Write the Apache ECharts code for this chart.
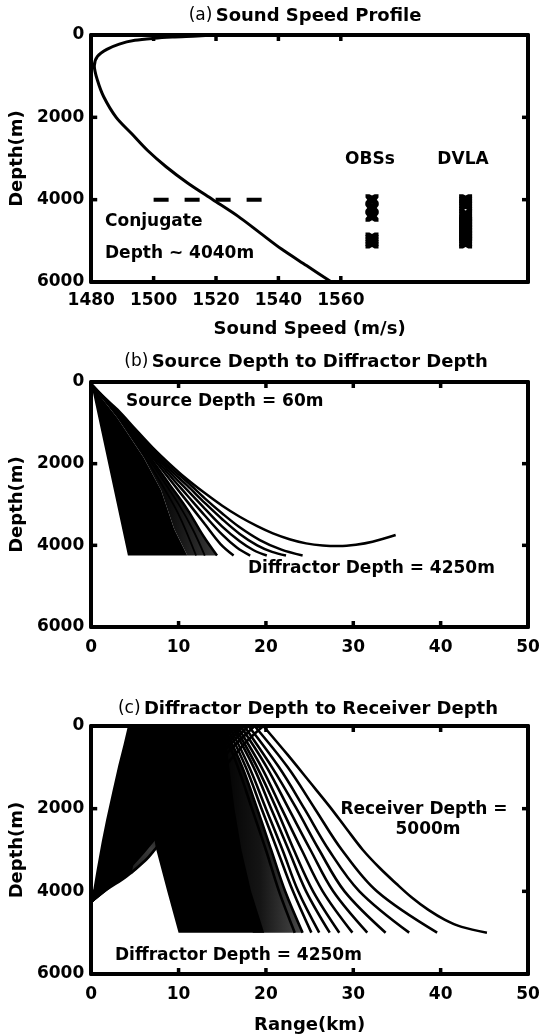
<!DOCTYPE html>
<html><head><meta charset="utf-8">
<script src="https://cdn.jsdelivr.net/npm/echarts@6/dist/echarts.min.js"></script>
<style>html,body{margin:0;padding:0;background:#fff}#c{width:543px;height:1036px}</style>
</head><body><div id="c"></div>
<script>
// ---------- Panel (a) data ----------
const speedProfile = [[1520,0],[1514,25],[1506,50],[1500,80],[1494,130],[1489,220],[1485,350],[1482,520],[1481,750],[1482,1100],[1484,1500],[1488,2000],[1493,2400],[1498,2800],[1504,3200],[1511,3600],[1519,4000],[1527,4400],[1534,4800],[1541,5200],[1549,5600],[1557,6000]];
const conjugateLine = [[1500,4000],[1536,4000]];
const obsSpeed = 1570;
const obsDepths = [4000,4200,4400,4930,4990,5050];
const dvlaSpeed = 1600;
const dvlaDepths = [4000,4070,4130,4360,4430,4500,4570,4640,4710,4780,4850,4920,4990,5050];
const speedLabels = [1480,1500,1520,1540,1560];
const speedTicks = [1500,1520,1540,1560];
const depthLabels = [0,2000,4000,6000];
const depthTicks = [2000,4000];
const rangeLabels = [0,10,20,30,40,50];
const rangeTicks = [10,20,30,40];

// ---------- Panel (b) data: source (60 m) to diffractor (4250 m) ----------
const fanB_solid = [[0,60],[4.2,4250],[11,4250],[9.5,3600],[8,2650],[6,1850],[3,880],[0,60]];
const fanB_grad  = [[0,60],[3,880],[6,1850],[8,2650],[9.5,3600],[11,4250],[14.4,4250],[12.8,3760],[11,3120],[9,2520],[6,1630],[3,790],[0,60]];
const rayB0 = [[0,60],[1.5,380],[3.2,718],[5,1140],[7,1600],[9,2010],[10.8,2350],[13,2720],[15,3030],[17,3300],[19,3530],[20.8,3707],[22.7,3850],[24.6,3952],[26.5,4005],[28.4,4018],[30.3,3985],[32.2,3912],[34.85,3748]];
const rayB1 = [[0,60],[3,725],[6,1420],[9,2080],[11,2450],[13,2850],[15,3220],[17,3558],[19.3,3871],[21.7,4100],[24.2,4250]];
const rayB2 = [[0,60],[3,735],[6,1450],[9,2140],[11,2540],[13,2960],[15,3360],[17,3720],[19,4000],[20.7,4160],[22.3,4250]];
const rayB3 = [[0,60],[3,745],[6,1480],[9,2210],[11,2650],[13,3100],[15,3540],[17,3900],[18.6,4120],[20.1,4250]];
const rayB4 = [[0,60],[3,760],[6,1520],[9,2290],[11,2780],[13,3270],[15,3740],[16.7,4060],[18.2,4250]];
const rayB5 = [[0,60],[3,775],[6,1570],[9,2390],[11,2930],[13,3480],[14.8,3970],[16.3,4250]];
const rayB6 = [[0,60],[3,790],[6,1630],[9,2520],[11,3120],[12.8,3760],[14.4,4250]];
const rayB7 = [[0,60],[3,810],[6,1700],[8,2330],[10,2990],[11.6,3600],[13.0,4250]];
const rayB8 = [[0,60],[3,830],[6,1780],[8,2480],[10,3240],[12,4250]];

// ---------- Panel (c) data: diffractor (4250 m) to surface, then down to receiver (5000 m) ----------
const fanC_solid = [[0,4250],[0.6,3500],[1.2,2800],[1.7,2275],[2.4,1600],[3.1,950],[3.7,450],[4.2,0],[15.2,0],[15.8,1000],[16.4,2000],[17.2,3000],[18.3,4000],[19.8,5000],[10,5000],[8.7,4000],[7.4,2960],[6.25,3243],[4,3646],[1.7,3969],[0,4250]];
const fanC_grad  = [[14.5,0],[15.2,0],[17.3,1000],[19.0,2000],[20.6,3000],[22.2,4000],[24.2,5000],[18.5,5000],[17.2,4000],[16.2,3000],[15.5,2000],[15,1000]];
const fanC_sparse = [[4.6,3590],[6.25,3243],[7.4,2960],[7.1,2560],[6.2,2450],[5.3,2850]];
const rayC1  = [[0,4250],[1.7,3969],[4,3646],[6.25,3243],[7.4,2960],[10,2330],[13,1570],[16,800],[18,330],[19.7,0],[22.5,700],[25,1350],[27.3,1950],[29.2,2480],[31.1,3000],[33,3430],[34.9,3810],[36.7,4150],[38.6,4450],[40.5,4690],[42.4,4860],[45.3,5000]];
const rayC2  = [[0,4250],[3,3720],[6,3050],[9.5,2150],[14,1000],[18.7,0],[22.5,1000],[25.6,2000],[28.7,3000],[32.7,4000],[39.6,5000]];
const rayC3  = [[0,4250],[3,3700],[6,3000],[9.5,2080],[13.5,1000],[18.0,0],[21.5,1000],[24.4,2000],[27.2,3000],[30.7,4000],[36.4,5000]];
const rayC4  = [[0,4250],[6,2950],[13,1000],[17.5,0],[20.7,1000],[23.5,2000],[26.1,3000],[29.0,4000],[33.7,5000]];
const rayC5  = [[0,4250],[6,2900],[12.7,1000],[17.1,0],[20.1,1000],[22.6,2000],[25.1,3000],[27.7,4000],[31.6,5000]];
const rayC6  = [[0,4250],[6,2850],[12.4,1000],[16.7,0],[19.5,1000],[21.8,2000],[24.1,3000],[26.5,4000],[29.9,5000]];
const rayC7  = [[0,4250],[6,2800],[12.1,1000],[16.4,0],[19.0,1000],[21.2,2000],[23.2,3000],[25.4,4000],[28.4,5000]];
const rayC8  = [[0,4250],[6,2750],[11.8,1000],[16.1,0],[18.6,1000],[20.6,2000],[22.6,3000],[24.6,4000],[27.3,5000]];
const rayC9  = [[0,4250],[6,2700],[11.5,1000],[15.8,0],[18.1,1000],[20.0,2000],[21.9,3000],[23.7,4000],[26.1,5000]];
const rayC10 = [[0,4250],[6,2650],[11.2,1000],[15.5,0],[17.7,1000],[19.5,2000],[21.3,3000],[23.1,4000],[25.2,5000]];
const rayC11 = [[0,4250],[6,2600],[10.9,1000],[15.2,0],[17.3,1000],[19.0,2000],[20.6,3000],[22.2,4000],[24.2,5000]];
const rayC12 = [[0,4250],[6,2550],[10.6,1000],[14.9,0],[16.8,1000],[18.4,2000],[20.0,3000],[21.5,4000],[23.3,5000]];

const FONT = '"DejaVu Sans", sans-serif';
const BLACK = '#000';

const raysB = [rayB0,rayB1,rayB2,rayB3,rayB4,rayB5,rayB6,rayB7,rayB8];
const raysC = [rayC1,rayC2,rayC3,rayC4,rayC5,rayC6,rayC7,rayC8,rayC9,rayC10,rayC11,rayC12];

const grids = [
  {left:90, top:35, width:438, height:247},
  {left:90, top:382, width:438, height:245},
  {left:90, top:726, width:438, height:248}
];

function lbl(){ return {show:true, fontFamily:FONT, fontWeight:'bold', fontSize:17, color:BLACK, formatter:v=>String(v)}; }
const axLine = {show:true, onZero:false, lineStyle:{color:BLACK, width:4}};
function xPair(g, min, max, interval, labels, name, nameGap, margin){
  const base = {gridIndex:g, type:'value', min:min, max:max, interval:interval, splitLine:{show:false},
    axisLine:axLine, axisTick:{show:false}};
  const bottom = Object.assign({}, base, {position:'bottom',
    axisLabel:Object.assign(lbl(), {margin:margin, customValues:labels})});
  if (name) Object.assign(bottom, {name:name, nameLocation:'middle', nameGap:nameGap,
    nameTextStyle:{fontFamily:FONT, fontWeight:'bold', fontSize:18, color:BLACK}});
  const top = Object.assign({}, base, {position:'top', axisLabel:{show:false}});
  return [bottom, top];
}
function yPair(g){
  const base = {gridIndex:g, type:'value', inverse:true, min:0, max:6000, interval:2000, splitLine:{show:false},
    axisLine:axLine, axisTick:{show:false}};
  const left = Object.assign({}, base, {position:'left', axisLabel:Object.assign(lbl(), {margin:7, customValues:depthLabels}),
    name:'Depth(m)', nameLocation:'middle', nameGap:50, nameRotate:90,
    nameTextStyle:{fontFamily:FONT, fontWeight:'bold', fontSize:18, color:BLACK}});
  const right = Object.assign({}, base, {position:'right', axisLabel:{show:false}});
  return [left, right];
}

const xAxis = [].concat(
  xPair(0, 1480, 1620, 20, speedLabels, 'Sound Speed (m/s)', 38, 10),
  xPair(1, 0, 50, 10, rangeLabels, null, 0, 12),
  xPair(2, 0, 50, 10, rangeLabels, 'Range(km)', 42, 12)
);
const yAxis = [].concat(yPair(0), yPair(1), yPair(2));

// inside tick marks on all four sides (MATLAB box style), placed through the axes' own scales
function tickSeries(ax, xTicks, yTicks, xr, yr){
  return {type:'custom', xAxisIndex:ax, yAxisIndex:ax, silent:true, clip:false, z:10,
    data:[[xr[0], yr[0]]],
    renderItem:function(params, api){
      const L = 6, st = {stroke:BLACK, lineWidth:3.5}, ch = [];
      xTicks.forEach(function(x){
        const b = api.coord([x, yr[1]]), t = api.coord([x, yr[0]]);
        ch.push({type:'line', shape:{x1:b[0], y1:b[1], x2:b[0], y2:b[1]-L}, style:st});
        ch.push({type:'line', shape:{x1:t[0], y1:t[1], x2:t[0], y2:t[1]+L}, style:st});
      });
      yTicks.forEach(function(y){
        const l = api.coord([xr[0], y]), r = api.coord([xr[1], y]);
        ch.push({type:'line', shape:{x1:l[0], y1:l[1], x2:l[0]+L, y2:l[1]}, style:st});
        ch.push({type:'line', shape:{x1:r[0], y1:r[1], x2:r[0]-L, y2:r[1]}, style:st});
      });
      return {type:'group', children:ch};
    }};
}

function polygonSeries(poly, ax, fill, z){
  return {type:'custom', xAxisIndex:ax, yAxisIndex:ax, silent:true, clip:true, z:z,
    data:[[poly[0][0], poly[0][1]]],
    renderItem:function(params, api){
      return {type:'polygon', shape:{points:poly.map(p=>api.coord(p))}, style:{fill:fill}};
    }};
}
function lineSeries(data, ax, width){
  return {type:'line', xAxisIndex:ax, yAxisIndex:ax, data:data, showSymbol:false, smooth:0.35,
    clip:true, silent:true, z:5, lineStyle:{color:BLACK, width:width}};
}
// surface-reflected rays: the up-going and down-going legs are drawn as two smooth pieces
function reflectedRay(ray, ax, width){
  const k = ray.findIndex(p=>p[1]===0);
  return [lineSeries(ray.slice(0, k+1), ax, width), lineSeries(ray.slice(k), ax, width)];
}
const gradB = {type:'linear', x:0, y:0, x2:1, y2:0, colorStops:[{offset:0,color:'#000'},{offset:0.6,color:'#0a0a0a'},{offset:1,color:'#3a3a3a'}]};
const gradC = {type:'linear', x:0, y:0, x2:1, y2:0, colorStops:[{offset:0,color:'#000'},{offset:0.5,color:'#151515'},{offset:1,color:'#4a4a4a'}]};
const gradSparse = {type:'linear', x:0, y:1, x2:1, y2:0, colorStops:[{offset:0,color:'#1a1a1a'},{offset:0.6,color:'#3c3c3c'},{offset:1,color:'#111'}]};
const crossPath = 'path://M0,0L3,0L5,1.3L7,0L10,0L10,3L8.7,5L10,7L10,10L7,10L5,8.7L3,10L0,10L0,7L1.3,5L0,3Z';

let series = [
  {type:'line', xAxisIndex:0, yAxisIndex:0, data:speedProfile, showSymbol:false, smooth:0.3, silent:true,
    lineStyle:{color:BLACK, width:3}},
  {type:'line', xAxisIndex:0, yAxisIndex:0, data:conjugateLine, showSymbol:false, silent:true,
    lineStyle:{color:BLACK, width:4, type:[15,16], cap:'butt'}},
  {type:'scatter', xAxisIndex:0, yAxisIndex:0, data:obsDepths.map(d=>[obsSpeed,d]), symbol:crossPath,
    symbolSize:[13,11], itemStyle:{color:BLACK, opacity:1}, silent:true},
  {type:'scatter', xAxisIndex:0, yAxisIndex:0, data:dvlaDepths.map(d=>[dvlaSpeed,d]), symbol:crossPath,
    symbolSize:[13,11], itemStyle:{color:BLACK, opacity:1}, silent:true},
  polygonSeries(fanB_grad, 2, gradB, 2),
  polygonSeries(fanB_solid, 2, '#000', 3),
  polygonSeries(fanC_grad, 4, gradC, 2),
  polygonSeries(fanC_solid, 4, '#000', 3),
  polygonSeries(fanC_sparse, 4, gradSparse, 4),
  tickSeries(0, speedTicks, depthTicks, [1480,1620], [0,6000]),
  tickSeries(2, rangeTicks, depthTicks, [0,50], [0,6000]),
  tickSeries(4, rangeTicks, depthTicks, [0,50], [0,6000])
];
raysB.forEach((r,i)=>series.push(lineSeries(r, 2, i<7 ? 2.5 : 1.8)));
raysC.forEach(r=>{ series = series.concat(reflectedRay(r, 4, 2.6)); });

function txt(x, y, text, opt){
  return {type:'text', x:x, y:y, silent:true, z:100, style:Object.assign({text:text, fill:BLACK,
    font:'bold 17px ' + FONT, textAlign:'left', textVerticalAlign:'middle'}, opt||{})};
}
function title(cx, y, tag, text){
  return {type:'text', x:cx, y:y, silent:true, z:100, style:{
    text:'{n|' + tag + '} {b|' + text + '}', textAlign:'center', textVerticalAlign:'middle',
    rich:{n:{font:'17px ' + FONT, fill:BLACK}, b:{font:'bold 18px ' + FONT, fill:BLACK}}}};
}

const graphic = [
  title(305, 16, '(a)', 'Sound Speed Profile'),
  title(306, 362, '(b)', 'Source Depth to Diffractor Depth'),
  title(308, 709, '(c)', 'Diffractor Depth to Receiver Depth'),
  txt(370, 160, 'OBSs', {textAlign:'center'}),
  txt(463, 160, 'DVLA', {textAlign:'center'}),
  txt(105, 222, 'Conjugate'),
  txt(105, 254, 'Depth ~ 4040m'),
  txt(126, 402, 'Source Depth = 60m'),
  txt(248, 569, 'Diffractor Depth = 4250m'),
  txt(424, 810, 'Receiver Depth =', {textAlign:'center'}),
  txt(428, 830, '5000m', {textAlign:'center'}),
  txt(115, 956, 'Diffractor Depth = 4250m')
];

const chart = echarts.init(document.getElementById('c'), null, {renderer:'canvas'});
chart.setOption({animation:false, backgroundColor:'#fff', grid:grids, xAxis:xAxis, yAxis:yAxis, series:series, graphic:graphic});
</script></body></html>
